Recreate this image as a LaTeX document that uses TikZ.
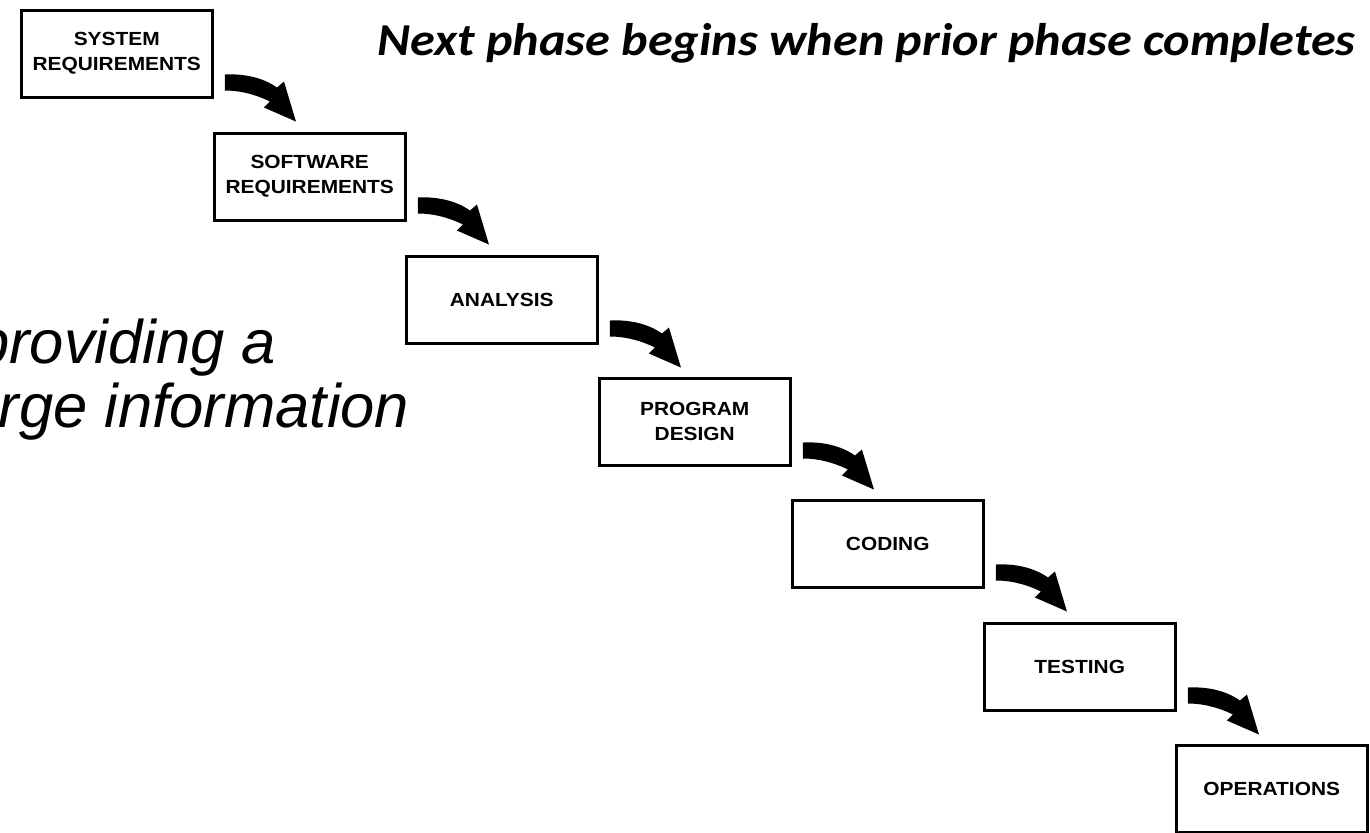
\documentclass[tikz,border=0pt]{standalone}
\usepackage{fontspec}
\newfontfamily\boxfont[FakeStretch=1.1]{Liberation Sans}
\newfontfamily\titlefont[FakeStretch=1.1]{Carlito}
\newfontfamily\notefont{Liberation Sans}
\begin{document}
\begin{tikzpicture}[x=0.01cm,y=-0.01cm,
  phase/.style={draw, line width=0.95pt, rectangle, minimum width=1.91cm,
    minimum height=0.87cm, inner sep=0pt, align=center, anchor=north west,
    font=\boxfont\bfseries\fontsize{5.4}{7.1}\selectfont},
  phasearrow/.pic={
    \fill (11,66) .. controls (30,65) and (49,69) .. (63,79)
      -- (70,73) -- (82,113) -- (50,99) -- (56,93)
      .. controls (44,87) and (28,82) .. (11,82) -- cycle;
  }]
\fill[white] (0,0) rectangle (1370,832);
\clip (0,0) rectangle (1370,832);
\useasboundingbox (0,0) rectangle (1370,832);

% heading
\node[font=\titlefont\bfseries\itshape\fontsize{13}{15}\selectfont,
  anchor=base west, inner sep=0pt] (title) at (377,55)
  {Next phase begins when prior phase completes};

% large italic remark running off the left edge
\node[font=\notefont\itshape\fontsize{17.5}{21}\selectfont,
  anchor=base east, inner sep=0pt] (note1) at (277,363) {providing a};
\node[font=\notefont\itshape\fontsize{17.5}{21}\selectfont,
  anchor=base east, inner sep=0pt] (note2) at (410,427) {rge information};

% the seven phases, stepping down to the right
\node[phase] (sysreq)   at (19.5,8.5)    {SYSTEM\\REQUIREMENTS};
\node[phase] (swreq)    at (212.5,131.5) {SOFTWARE\\REQUIREMENTS};
\node[phase] (analysis) at (404.5,254.5) {ANALYSIS};
\node[phase] (design)   at (597.5,376.5) {PROGRAM\\DESIGN};
\node[phase] (coding)   at (790.5,498.5) {CODING};
\node[phase] (testing)  at (982.5,621.5) {TESTING};
\node[phase] (ops)      at (1174.5,743.5) {OPERATIONS};

% curved arrows from each phase to the next
\foreach \src in {sysreq,swreq,analysis,design,coding,testing}
  \pic at (\src.north east) {phasearrow};
\end{tikzpicture}
\end{document}
